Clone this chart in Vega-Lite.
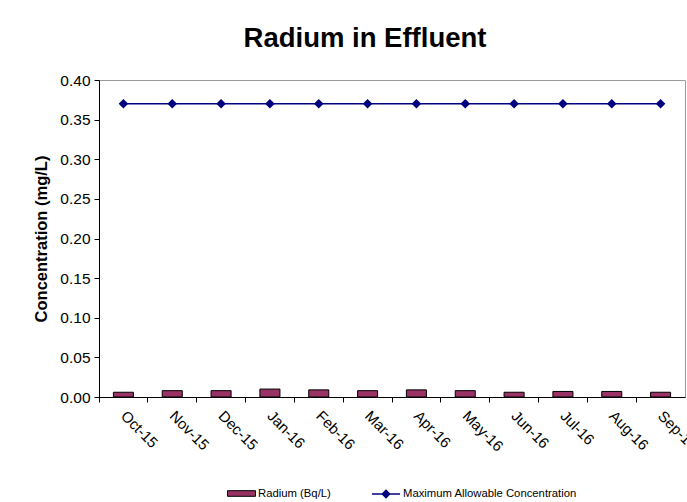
{
  "$schema": "https://vega.github.io/schema/vega-lite/v6.json",
  "width": 586,
  "height": 317,
  "autosize": "none",
  "padding": {"left": 99, "top": 80, "right": 2, "bottom": 105},
  "background": "white",
  "title": {
    "text": "Radium in Effluent",
    "font": "Liberation Sans",
    "fontSize": 27.5,
    "fontWeight": "bold",
    "color": "black",
    "anchor": "middle",
    "frame": "group",
    "dx": -27,
    "offset": 21
  },
  "config": {
    "view": {"stroke": "#9a9a9a", "strokeWidth": 1},
    "font": "Liberation Sans",
    "axisY": {
      "labelOverlap": false,
      "labelFontSize": 15.5,
      "labelColor": "black",
      "domainColor": "black",
      "tickColor": "black",
      "tickSize": 5,
      "labelPadding": 4,
      "grid": false
    }
  },
  "data": {
    "values": [
      {"month": "Oct-15", "radium": 0.006, "max": 0.37},
      {"month": "Nov-15", "radium": 0.008, "max": 0.37},
      {"month": "Dec-15", "radium": 0.008, "max": 0.37},
      {"month": "Jan-16", "radium": 0.010, "max": 0.37},
      {"month": "Feb-16", "radium": 0.009, "max": 0.37},
      {"month": "Mar-16", "radium": 0.008, "max": 0.37},
      {"month": "Apr-16", "radium": 0.009, "max": 0.37},
      {"month": "May-16", "radium": 0.008, "max": 0.37},
      {"month": "Jun-16", "radium": 0.006, "max": 0.37},
      {"month": "Jul-16", "radium": 0.007, "max": 0.37},
      {"month": "Aug-16", "radium": 0.007, "max": 0.37},
      {"month": "Sep-16", "radium": 0.006, "max": 0.37}
    ]
  },
  "encoding": {
    "x": {
      "field": "month",
      "type": "ordinal",
      "sort": null,
      "scale": {"paddingInner": 0, "paddingOuter": 0},
      "axis": {
        "title": null,
        "bandPosition": 0,
        "labelOffset": 0,
        "labelAngle": 45,
        "labelAlign": "left",
        "labelBaseline": "middle",
        "labelPadding": 11,
        "labelFontSize": 15,
        "labelColor": "black",
        "labelOverlap": false,
        "domainColor": "black",
        "tickColor": "black",
        "tickSize": 5,
        "labelFont": "Liberation Sans"
      }
    }
  },
  "layer": [
    {
      "mark": {"type": "bar", "width": {"band": 0.41}, "stroke": "black", "strokeWidth": 1},
      "encoding": {
        "y": {
          "field": "radium",
          "type": "quantitative",
          "scale": {"domain": [0, 0.4]},
          "axis": {
            "title": "Concentration (mg/L)",
            "titleFontSize": 16.5,
            "titleFontWeight": "bold",
            "titleColor": "black",
            "titlePadding": 10,
            "format": ".2f",
            "values": [0, 0.05, 0.1, 0.15, 0.2, 0.25, 0.3, 0.35, 0.4],
            "labelOverlap": false
          }
        },
        "fill": {
          "datum": "Radium (Bq/L)",
          "scale": {"domain": ["Radium (Bq/L)"], "range": ["#993366"]},
          "legend": {
            "title": null,
            "orient": "none",
            "legendX": 128,
            "legendY": 399,
            "symbolType": "M-1,-0.2H1V0.2H-1Z",
            "symbolSize": 784,
            "symbolStrokeColor": "black",
            "symbolStrokeWidth": 1,
            "labelFontSize": 11.3,
            "labelColor": "black",
            "labelOffset": 2,
            "labelLimit": 300
          }
        }
      }
    },
    {
      "mark": {
        "type": "line",
        "strokeWidth": 1.5,
        "point": {"shape": "diamond", "size": 45, "filled": true, "fill": "#000080", "color": "#000080", "opacity": 1}
      },
      "encoding": {
        "y": {
          "field": "max",
          "type": "quantitative",
          "axis": {
            "title": "Concentration (mg/L)",
            "format": ".2f",
            "values": [0, 0.05, 0.1, 0.15, 0.2, 0.25, 0.3, 0.35, 0.4],
            "labelOverlap": false
          }
        },
        "stroke": {
          "datum": "Maximum Allowable Concentration",
          "scale": {"domain": ["Maximum Allowable Concentration"], "range": ["#000080"]},
          "legend": {
            "title": null,
            "orient": "none",
            "legendX": 272,
            "legendY": 399,
            "symbolType": "M-1,0H1M0,-0.26L0.26,0L0,0.26L-0.26,0Z",
            "symbolSize": 784,
            "symbolFillColor": "#000080",
            "symbolStrokeWidth": 1.5,
            "labelFontSize": 11.3,
            "labelColor": "black",
            "labelOffset": 2,
            "labelLimit": 300
          }
        }
      }
    }
  ]
}
